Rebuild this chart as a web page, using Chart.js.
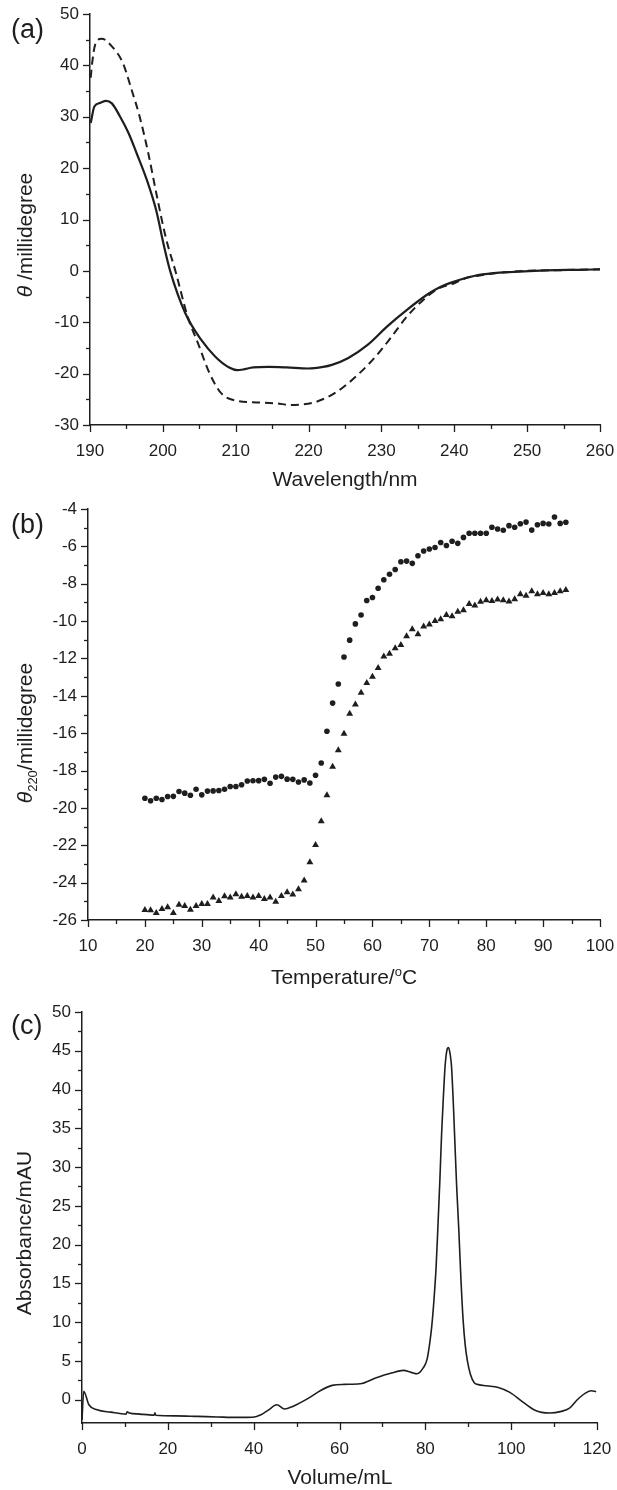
<!DOCTYPE html>
<html>
<head>
<meta charset="utf-8">
<script src="https://cdn.jsdelivr.net/npm/chart.js@4.4.1/dist/chart.umd.min.js"></script>
<style>
  html, body { margin: 0; padding: 0; background: #fff; }
  #wrap { position: relative; width: 617px; height: 1490px; }
  canvas { position: absolute; left: 0; }
  .tag { position: absolute; left: 11px; font: 27px "Liberation Sans", Arial, sans-serif; line-height: 27px; color: #1e1e1e; }
</style>
</head>
<body>
<div id="wrap">
  <canvas id="chartA" width="617" height="490" style="top:0px"></canvas>
  <canvas id="chartB" width="617" height="510" style="top:490px"></canvas>
  <canvas id="chartC" width="617" height="490" style="top:1000px"></canvas>
  <div class="tag" style="top:16px">(a)</div>
  <div class="tag" style="top:511px">(b)</div>
  <div class="tag" style="top:1012px">(c)</div>
</div>
<script>
// (a) CD spectra
const solidNm  = [190.1, 190.6, 191.4, 192.2, 193.0, 194.1, 195.3, 196.4, 197.8, 199.1, 200.1, 201.0, 203.1, 205.3, 207.2, 209.1, 210.2, 211.0, 212.4, 214.5, 217.0, 219.9, 222.0, 223.2, 225.4, 228.1, 230.8, 233.5, 236.2, 238.0, 240.0, 242.7, 245.4, 248.2, 251.0, 254.0, 257.0, 260.0];
const solidMd  = [28.8, 32.0, 32.7, 33.1, 32.6, 30.1, 26.8, 22.9, 17.7, 11.7, 5.2, 0.0, -8.3, -13.5, -16.7, -18.8, -19.3, -19.2, -18.8, -18.7, -18.8, -19.0, -18.7, -18.3, -17.0, -14.4, -10.8, -7.6, -4.7, -3.2, -2.1, -1.0, -0.45, -0.2, 0.0, 0.15, 0.2, 0.3];
const dashNm   = [190.1, 190.3, 190.7, 191.6, 193.0, 194.5, 195.7, 196.8, 198.0, 199.1, 200.4, 201.8, 203.4, 204.8, 206.4, 208.0, 210.2, 212.9, 215.6, 217.5, 220.5, 222.7, 224.8, 227.0, 229.2, 231.4, 233.5, 235.7, 237.9, 240.0, 241.6, 243.5, 246.0, 250.0, 255.0, 260.0];
const dashMd   = [37.6, 40.5, 44.0, 45.2, 43.7, 40.5, 35.3, 30.1, 22.9, 15.1, 6.5, -0.4, -8.9, -14.0, -19.9, -23.8, -25.3, -25.6, -25.8, -26.1, -25.7, -24.5, -22.6, -19.9, -16.7, -12.8, -8.9, -5.7, -3.4, -2.4, -1.4, -0.9, -0.4, 0.0, 0.15, 0.3];

// (b) thermal melt at 220 nm
const tempC = [20, 21, 22, 23, 24, 25, 26, 27, 28, 29, 30, 31, 32, 33, 34, 35, 36, 37, 38, 39, 40, 41, 42, 43, 44, 45, 46, 47, 48, 49, 50, 51, 52, 53, 54, 55, 56, 57, 58, 59, 60, 61, 62, 63, 64, 65, 66, 67, 68, 69, 70, 71, 72, 73, 74, 75, 76, 77, 78, 79, 80, 81, 82, 83, 84, 85, 86, 87, 88, 89, 90, 91, 92, 93, 94];
const circleMd = [-19.48, -19.62, -19.48, -19.55, -19.39, -19.38, -19.12, -19.21, -19.32, -19.00, -19.30, -19.10, -19.09, -19.07, -19.00, -18.85, -18.85, -18.76, -18.56, -18.55, -18.54, -18.47, -18.68, -18.35, -18.31, -18.46, -18.47, -18.61, -18.50, -18.67, -18.25, -17.60, -15.90, -14.39, -13.37, -11.92, -11.02, -10.15, -9.67, -8.90, -8.74, -8.24, -7.79, -7.49, -7.24, -6.82, -6.79, -6.91, -6.50, -6.25, -6.14, -6.06, -5.79, -5.95, -5.73, -5.84, -5.52, -5.30, -5.30, -5.30, -5.30, -4.98, -5.07, -5.14, -4.89, -4.98, -4.79, -4.70, -5.13, -4.84, -4.77, -4.80, -4.43, -4.77, -4.71];
const triMd    = [-25.47, -25.48, -25.63, -25.41, -25.32, -25.63, -25.18, -25.25, -25.45, -25.25, -25.14, -25.14, -24.80, -24.98, -24.73, -24.80, -24.62, -24.75, -24.71, -24.80, -24.71, -24.88, -24.79, -25.02, -24.71, -24.52, -24.64, -24.36, -23.89, -22.91, -21.98, -20.71, -19.32, -17.80, -16.92, -16.03, -14.96, -14.46, -13.84, -13.31, -12.98, -12.51, -11.90, -11.75, -11.45, -11.28, -10.81, -10.44, -10.70, -10.29, -10.18, -10.00, -9.90, -9.68, -9.74, -9.50, -9.42, -9.09, -9.16, -8.97, -8.88, -8.92, -8.84, -8.88, -8.95, -8.83, -8.56, -8.65, -8.40, -8.56, -8.49, -8.56, -8.49, -8.40, -8.34];

// (c) size exclusion trace
const volumeMl = [0, 0.4, 1.6, 3.5, 6.7, 10.3, 10.5, 11.0, 13.5, 16.8, 17.0, 17.2, 21.9, 26.9, 31.5, 36.2, 39.8, 41.7, 43.5, 45.4, 47.2, 49.1, 52.8, 55.6, 58.3, 61.1, 64.8, 68.4, 72.1, 74.9, 76.7, 78.1, 79.5, 80.4, 81.0, 81.5, 82.0, 82.5, 82.9, 83.4, 83.8, 84.2, 84.6, 85.0, 85.4, 85.8, 86.1, 86.5, 86.8, 87.3, 87.8, 88.3, 88.8, 89.3, 89.8, 90.5, 91.4, 92.4, 94.2, 97.0, 99.7, 102.5, 105.3, 107.1, 109.0, 111.7, 113.6, 115.4, 117.3, 118.7, 119.8];
const absMau   = [-2.6, 1.1, -0.65, -1.3, -1.6, -1.85, -1.55, -1.7, -1.85, -1.98, -1.7, -2.0, -2.08, -2.15, -2.22, -2.28, -2.25, -1.94, -1.3, -0.65, -1.2, -0.86, 0.21, 1.2, 1.85, 1.98, 2.06, 2.8, 3.44, 3.79, 3.53, 3.35, 4.1, 5.2, 7.2, 9.5, 12.8, 17.0, 21.9, 28.5, 34.4, 39.0, 43.0, 45.0, 45.4, 44.5, 43.0, 38.5, 34.4, 27.5, 21.9, 15.5, 10.3, 7.0, 5.0, 3.3, 2.2, 1.95, 1.8, 1.59, 0.95, -0.2, -1.29, -1.63, -1.72, -1.5, -1.07, 0.0, 0.86, 1.16, 1.03];

// tick label values
const ticksAx = [190, 200, 210, 220, 230, 240, 250, 260];
const ticksAy = [-30, -20, -10, 0, 10, 20, 30, 40, 50];
const ticksBx = [10, 20, 30, 40, 50, 60, 70, 80, 90, 100];
const ticksBy = [-26, -24, -22, -20, -18, -16, -14, -12, -10, -8, -6, -4];
const ticksCx = [0, 20, 40, 60, 80, 100, 120];
const ticksCy = [0, 5, 10, 15, 20, 25, 30, 35, 40, 45, 50];

const INK = '#1e1e1e';
const SANS = '"Liberation Sans", Arial, sans-serif';

Chart.defaults.font.family = SANS;
Chart.defaults.color = INK;

function pairs(xs, ys) {
    return xs.map((x, i) => ({ x: x, y: ys[i] }));
}

// text made of pieces (italic theta, subscript, superscript)
function drawRich(ctx, segs, cx, base, vertical) {
    ctx.save();
    ctx.translate(cx, base);
    if (vertical) ctx.rotate(-Math.PI / 2);
    ctx.fillStyle = INK;
    ctx.textBaseline = 'alphabetic';
    let total = 0;
    const widths = segs.map(s => {
        ctx.font = s.font;
        const w = ctx.measureText(s.text).width;
        total += w;
        return w;
    });
    let x = -total / 2;
    segs.forEach((s, i) => {
        ctx.font = s.font;
        ctx.fillText(s.text, x, s.dy || 0);
        x += widths[i];
    });
    ctx.restore();
}

const axisDeco = {
    id: 'axisDeco',
    afterDraw(chart, args, opts) {
        const ctx = chart.ctx;
        ctx.save();
        ctx.strokeStyle = INK;
        ctx.lineWidth = 1.3;
        ['x', 'y'].forEach(id => {
            const s = chart.scales[id];
            const t = opts[id];
            const n = Math.round((t.to - t.from) / t.minor);
            for (let i = 0; i <= n; i++) {
                const v = t.from + i * t.minor;
                const r = v / t.major;
                const len = Math.abs(r - Math.round(r)) < 1e-6 ? 7 : 4;
                const p = Math.round(s.getPixelForValue(v)) + 0.5;
                ctx.beginPath();
                if (id === 'x') {
                    ctx.moveTo(p, s.top);
                    ctx.lineTo(p, s.top + len);
                } else {
                    ctx.moveTo(s.right, p);
                    ctx.lineTo(s.right - len, p);
                }
                ctx.stroke();
            }
        });
        ctx.restore();
        drawRich(ctx, opts.xTitle.segs, opts.xTitle.x, opts.xTitle.base, false);
        drawRich(ctx, opts.yTitle.segs, opts.yTitle.x, opts.yTitle.base, true);
    }
};

function makeScales(p) {
    return {
        x: {
            type: 'linear',
            min: p.xMin, max: p.xMax,
            afterBuildTicks: s => { s.ticks = p.xTicks.map(v => ({ value: v })); },
            afterFit: s => { s.height = p.xHeight; s.paddingLeft = 0; s.paddingRight = 0; },
            grid: { display: false, drawTicks: false },
            border: { display: true, color: INK, width: 1.5 },
            ticks: { font: { size: 17 }, color: INK, padding: 16, maxRotation: 0, callback: v => String(v) }
        },
        y: {
            type: 'linear',
            min: p.yMin, max: p.yMax,
            afterBuildTicks: s => { s.ticks = p.yTicks.map(v => ({ value: v })); },
            afterFit: s => { s.width = p.yWidth; s.paddingTop = 0; s.paddingBottom = 0; },
            grid: { display: false, drawTicks: false },
            border: { display: true, color: INK, width: 1.5 },
            ticks: { font: { size: 17 }, color: INK, padding: 11, callback: v => String(v) }
        }
    };
}

const titleFont = '21px ' + SANS;
const smallFont = '13px ' + SANS;
const thetaFont = 'italic 21px ' + SANS;

// panel (a)
new Chart(document.getElementById('chartA'), {
    type: 'line',
    data: {
        datasets: [
            {
                data: pairs(solidNm, solidMd),
                borderColor: INK, borderWidth: 2.2,
                pointRadius: 0, cubicInterpolationMode: 'monotone'
            },
            {
                data: pairs(dashNm, dashMd),
                borderColor: INK, borderWidth: 2,
                borderDash: [8, 5],
                pointRadius: 0, cubicInterpolationMode: 'monotone'
            }
        ]
    },
    options: {
        responsive: false, animation: false, devicePixelRatio: 1,
        layout: { padding: { top: 14, right: 17, left: 0, bottom: 0 } },
        scales: makeScales({ xMin: 190, xMax: 260, yMin: -30, yMax: 50, xTicks: ticksAx, yTicks: ticksAy, xHeight: 65, yWidth: 90 }),
        plugins: {
            legend: { display: false }, tooltip: { enabled: false },
            axisDeco: {
                x: { from: 190, to: 260, minor: 5, major: 10 },
                y: { from: -30, to: 50, minor: 5, major: 10 },
                xTitle: { x: 345, base: 486, segs: [{ text: 'Wavelength/nm', font: titleFont }] },
                yTitle: { x: 32, base: 235, segs: [{ text: 'θ', font: thetaFont }, { text: ' /millidegree', font: titleFont }] }
            }
        }
    },
    plugins: [axisDeco]
});

// panel (b)
new Chart(document.getElementById('chartB'), {
    type: 'scatter',
    data: {
        datasets: [
            {
                data: pairs(tempC, circleMd),
                pointStyle: 'circle', pointRadius: 2.8,
                backgroundColor: INK, borderWidth: 0
            },
            {
                data: pairs(tempC, triMd),
                pointStyle: 'triangle', pointRadius: 4,
                backgroundColor: INK, borderWidth: 0
            }
        ]
    },
    options: {
        responsive: false, animation: false, devicePixelRatio: 1,
        layout: { padding: { top: 19, right: 17, left: 0, bottom: 0 } },
        scales: makeScales({ xMin: 10, xMax: 100, yMin: -26, yMax: -4, xTicks: ticksBx, yTicks: ticksBy, xHeight: 80, yWidth: 88 }),
        plugins: {
            legend: { display: false }, tooltip: { enabled: false },
            axisDeco: {
                x: { from: 10, to: 100, minor: 5, major: 10 },
                y: { from: -26, to: -4, minor: 1, major: 2 },
                xTitle: { x: 344, base: 494, segs: [
                    { text: 'Temperature/', font: titleFont },
                    { text: 'o', font: smallFont, dy: -8 },
                    { text: 'C', font: titleFont }
                ] },
                yTitle: { x: 32, base: 243, segs: [
                    { text: 'θ', font: thetaFont },
                    { text: '220', font: smallFont, dy: 5 },
                    { text: '/millidegree', font: titleFont }
                ] }
            }
        }
    },
    plugins: [axisDeco]
});

// panel (c)
new Chart(document.getElementById('chartC'), {
    type: 'line',
    data: {
        datasets: [
            {
                data: pairs(volumeMl, absMau),
                borderColor: INK, borderWidth: 1.6,
                pointRadius: 0, cubicInterpolationMode: 'monotone'
            }
        ]
    },
    options: {
        responsive: false, animation: false, devicePixelRatio: 1,
        layout: { padding: { top: 12, right: 20, left: 0, bottom: 0 } },
        scales: makeScales({ xMin: 0, xMax: 120, yMin: -3, yMax: 50, xTicks: ticksCx, yTicks: ticksCy, xHeight: 67, yWidth: 82 }),
        plugins: {
            legend: { display: false }, tooltip: { enabled: false },
            axisDeco: {
                x: { from: 0, to: 120, minor: 10, major: 20 },
                y: { from: 0, to: 50, minor: 2.5, major: 5 },
                xTitle: { x: 340, base: 484, segs: [{ text: 'Volume/mL', font: titleFont }] },
                yTitle: { x: 31, base: 233, segs: [{ text: 'Absorbance/mAU', font: titleFont }] }
            }
        }
    },
    plugins: [axisDeco]
});
</script>
</body>
</html>
